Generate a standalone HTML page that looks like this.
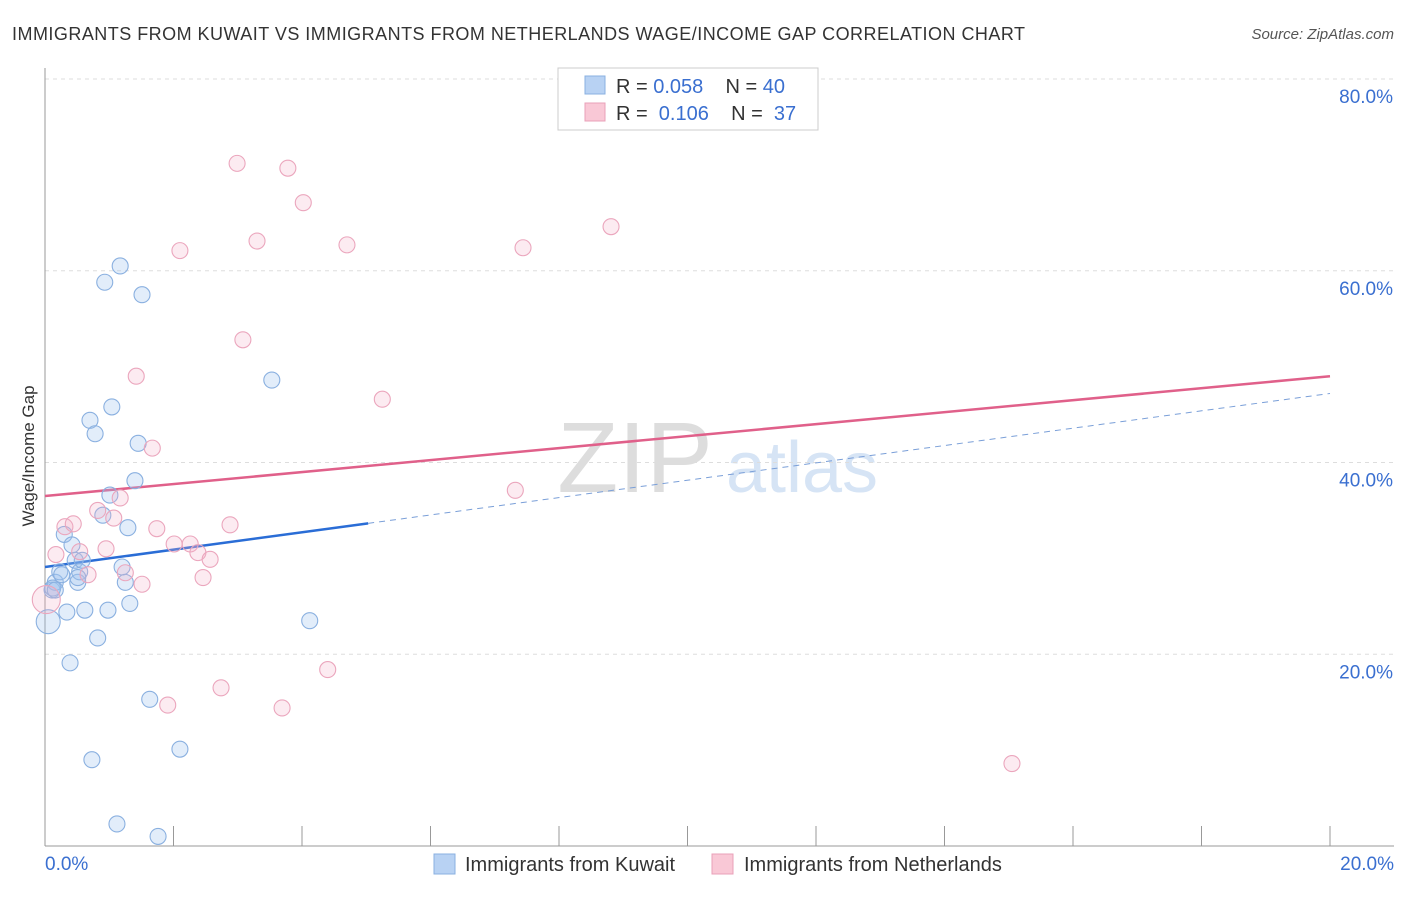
<!DOCTYPE html>
<html><head><meta charset="utf-8"><style>
body{margin:0;background:#fff;font-family:"Liberation Sans",sans-serif;}
svg text{font-family:"Liberation Sans",sans-serif;}
</style></head><body>
<svg id="chart" width="1406" height="892" xmlns="http://www.w3.org/2000/svg">
<text x="12" y="40" font-size="18" fill="#333" textLength="1013" lengthAdjust="spacing">IMMIGRANTS FROM KUWAIT VS IMMIGRANTS FROM NETHERLANDS WAGE/INCOME GAP CORRELATION CHART</text>
<text x="1394" y="39" font-size="15" fill="#555" text-anchor="end" font-style="italic">Source: ZipAtlas.com</text>
<text x="635" y="492" font-size="100" fill="#ddd" font-family="Liberation Serif" text-anchor="middle">ZIP</text>
<text x="802" y="492" font-size="72" fill="#d6e4f5" text-anchor="middle">atlas</text>
<text transform="translate(34,456) rotate(-90)" font-size="17" fill="#333" text-anchor="middle">Wage/Income Gap</text>
<g id="grid"></g><g id="ticks"></g><g id="trends"></g><g id="points"></g>
<g>
<rect x="558" y="68" width="260" height="62" fill="#fff" stroke="#ccc"/>
<rect x="585" y="76" width="20" height="18" fill="#b8d2f3" stroke="#8ab0e0"/>
<rect x="585" y="103" width="20" height="18" fill="#f9c8d6" stroke="#e9a0b8"/>
<text x="616" y="93" font-size="20" fill="#333">R = <tspan fill="#3a6fd0">0.058</tspan>&#160;&#160;&#160;&#160;N = <tspan fill="#3a6fd0">40</tspan></text>
<text x="616" y="120" font-size="20" fill="#333">R = &#160;<tspan fill="#3a6fd0">0.106</tspan>&#160;&#160;&#160;&#160;N = &#160;<tspan fill="#3a6fd0">37</tspan></text>
</g>
<g>
<rect x="434" y="854" width="21" height="20" fill="#b8d2f3" stroke="#8ab0e0"/>
<text x="465" y="871" font-size="20" fill="#333">Immigrants from Kuwait</text>
<rect x="712" y="854" width="21" height="20" fill="#f9c8d6" stroke="#e9a0b8"/>
<text x="744" y="871" font-size="20" fill="#333">Immigrants from Netherlands</text>
</g>
</svg>
<script>
const kuwaitX=[.05,.11,.16,.23,.26,.30,.34,.39,.42,.47,.51,.54,.58,.62,.70,.78,.73,.82,.90,.93,.98,1.01,1.04,1.12,1.17,1.20,1.25,1.29,1.32,1.40,1.45,1.51,1.63,1.76,2.10,3.53,4.12,.12,.16,.51];
const kuwaitY=[23.4,26.7,27.5,28.6,28.3,32.5,24.4,19.1,31.4,29.8,27.5,28.6,29.8,24.6,44.4,43.0,9.0,21.7,34.5,58.8,24.6,36.6,45.8,2.3,60.5,29.1,27.5,33.2,25.3,38.1,42.0,57.5,15.3,1.0,10.1,48.6,23.5,26.9,26.7,28.0];
const nethX=[.02,.17,.31,.44,.54,.67,.82,.95,1.07,1.17,1.25,1.42,1.51,1.67,1.74,1.91,2.01,2.10,2.26,2.38,2.46,2.57,2.74,2.88,2.99,3.08,3.30,3.69,3.78,4.02,4.40,4.70,5.25,7.32,7.44,8.81,15.05];
const nethY=[25.7,30.4,33.3,33.6,30.7,28.3,35.0,31.0,34.2,36.3,28.5,49.0,27.3,41.5,33.1,14.7,31.5,62.1,31.5,30.6,28.0,29.9,16.5,33.5,71.2,52.8,63.1,14.4,70.7,67.1,18.4,62.7,46.6,37.1,62.4,64.6,8.6];
const yTicks=[20,40,60,80];
const yTickLabels=["20.0%","40.0%","60.0%","80.0%"];
const kuwaitTrend=[29.1,47.2];
const nethTrend=[36.5,49.0];
const kuwaitSolidEnd=5.03;
const X=v=>45+v*64.25, Y=v=>846-v*9.5875;
const NS="http://www.w3.org/2000/svg";
function mk(t,a,p){const e=document.createElementNS(NS,t);for(const k in a)e.setAttribute(k,a[k]);p.appendChild(e);return e;}
const grid=document.getElementById('grid'),ticks=document.getElementById('ticks'),tr=document.getElementById('trends'),pts=document.getElementById('points');
yTicks.forEach((v,i)=>{
 const l=mk('line',{x1:45,x2:1394,y1:Y(v),y2:Y(v),stroke:'#ddd','stroke-dasharray':'4,4'},grid);
 
 
 const t=mk('text',{x:1393,y:Y(v)+24,'font-size':19,fill:'#3a6fd0','text-anchor':'end'},ticks);
 t.textContent=yTickLabels[i];
 
 
});
mk('line',{x1:45,x2:45,y1:68,y2:846,stroke:'#999'},grid);
mk('line',{x1:45,x2:1394,y1:846,y2:846,stroke:'#999'},grid);
for(let i=0;i<=10;i++){const l=mk('line',{x1:X(i*2),x2:X(i*2),y1:826,y2:846,stroke:'#999'},ticks);
 
 }
let t0=mk('text',{x:45,y:870,'font-size':19,fill:'#3a6fd0'},ticks);t0.textContent='0.0%';


let t1=mk('text',{x:1394,y:870,'font-size':19,fill:'#3a6fd0','text-anchor':'end'},ticks);t1.textContent='20.0%';


const lerp=(tr2,x)=>tr2[0]+(tr2[1]-tr2[0])*x/20;
let bl=mk('line',{x1:X(0),y1:Y(lerp(kuwaitTrend,0)),x2:X(kuwaitSolidEnd),y2:Y(lerp(kuwaitTrend,kuwaitSolidEnd)),stroke:'#2a6dd6','stroke-width':2.5},tr);


let bd=mk('line',{x1:X(kuwaitSolidEnd),y1:Y(lerp(kuwaitTrend,kuwaitSolidEnd)),x2:X(20),y2:Y(lerp(kuwaitTrend,20)),stroke:'#7a9fd8','stroke-width':1,'stroke-dasharray':'6,5'},tr);


let pl=mk('line',{x1:X(0),y1:Y(lerp(nethTrend,0)),x2:X(20),y2:Y(lerp(nethTrend,20)),stroke:'#e0608a','stroke-width':2.5},tr);


kuwaitX.forEach((x,i)=>{const c=mk('circle',{cx:X(x),cy:Y(kuwaitY[i]),r:i==0?12:8,fill:'rgba(160,196,240,0.3)',stroke:'#8ab0e0','stroke-width':1.1},pts);
 
 });
nethX.forEach((x,i)=>{const c=mk('circle',{cx:X(x),cy:Y(nethY[i]),r:i==0?14:8,fill:'rgba(245,175,198,0.25)',stroke:'#eba6bd','stroke-width':1.1},pts);
 
 });
</script>
</body></html>
